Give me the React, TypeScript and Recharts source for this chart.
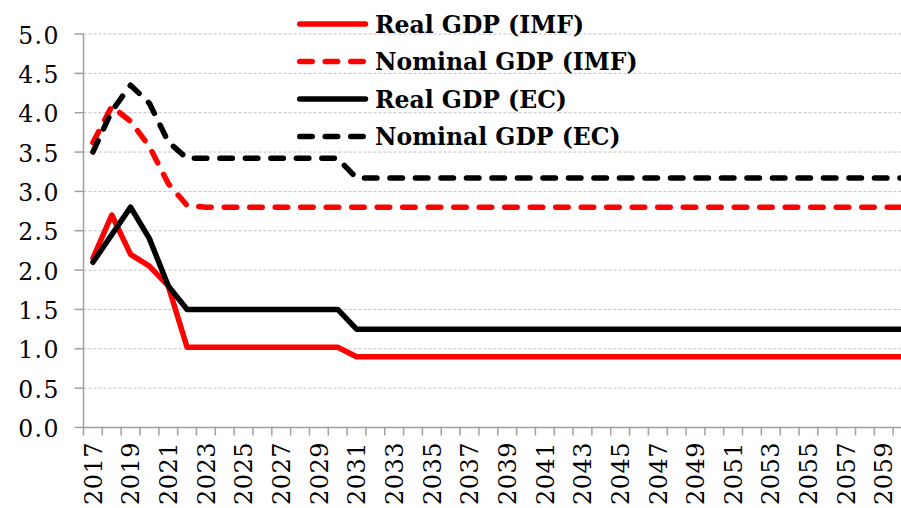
import React from 'react';
import { LineChart, Line, XAxis, YAxis, CartesianGrid, Legend } from 'recharts';

const YEARS = [
  2017, 2018, 2019, 2020, 2021, 2022, 2023, 2024, 2025, 2026, 2027,
  2028, 2029, 2030, 2031, 2032, 2033, 2034, 2035, 2036, 2037, 2038,
  2039, 2040, 2041, 2042, 2043, 2044, 2045, 2046, 2047, 2048, 2049,
  2050, 2051, 2052, 2053, 2054, 2055, 2056, 2057, 2058, 2059, 2060,
];

const REAL_IMF = [
  2.15, 2.7, 2.2, 2.05, 1.8, 1.02, 1.02, 1.02, 1.02, 1.02, 1.02,
  1.02, 1.02, 1.02, 0.9, 0.9, 0.9, 0.9, 0.9, 0.9, 0.9, 0.9,
  0.9, 0.9, 0.9, 0.9, 0.9, 0.9, 0.9, 0.9, 0.9, 0.9, 0.9,
  0.9, 0.9, 0.9, 0.9, 0.9, 0.9, 0.9, 0.9, 0.9, 0.9, 0.9,
];

const NOMINAL_IMF = [
  3.62, 4.08, 3.89, 3.57, 3.1, 2.82, 2.8, 2.8, 2.8, 2.8, 2.8,
  2.8, 2.8, 2.8, 2.8, 2.8, 2.8, 2.8, 2.8, 2.8, 2.8, 2.8,
  2.8, 2.8, 2.8, 2.8, 2.8, 2.8, 2.8, 2.8, 2.8, 2.8, 2.8,
  2.8, 2.8, 2.8, 2.8, 2.8, 2.8, 2.8, 2.8, 2.8, 2.8, 2.8,
];

const REAL_EC = [
  2.1, 2.45, 2.8, 2.4, 1.8, 1.5, 1.5, 1.5, 1.5, 1.5, 1.5,
  1.5, 1.5, 1.5, 1.25, 1.25, 1.25, 1.25, 1.25, 1.25, 1.25, 1.25,
  1.25, 1.25, 1.25, 1.25, 1.25, 1.25, 1.25, 1.25, 1.25, 1.25, 1.25,
  1.25, 1.25, 1.25, 1.25, 1.25, 1.25, 1.25, 1.25, 1.25, 1.25, 1.25,
];

const NOMINAL_EC = [
  3.5, 4.02, 4.35, 4.12, 3.63, 3.42, 3.42, 3.42, 3.42, 3.42, 3.42,
  3.42, 3.42, 3.42, 3.17, 3.17, 3.17, 3.17, 3.17, 3.17, 3.17, 3.17,
  3.17, 3.17, 3.17, 3.17, 3.17, 3.17, 3.17, 3.17, 3.17, 3.17, 3.17,
  3.17, 3.17, 3.17, 3.17, 3.17, 3.17, 3.17, 3.17, 3.17, 3.17, 3.17,
];

const Y_TICKS = [0, 0.5, 1, 1.5, 2, 2.5, 3, 3.5, 4, 4.5, 5];

const SERIES = [
  { key: 'realImf', name: 'Real GDP (IMF)', color: '#ff0000', dashed: false },
  { key: 'nominalImf', name: 'Nominal GDP (IMF)', color: '#ff0000', dashed: true },
  { key: 'realEc', name: 'Real GDP (EC)', color: '#000000', dashed: false },
  { key: 'nominalEc', name: 'Nominal GDP (EC)', color: '#000000', dashed: true },
];

const data = YEARS.map((year, i) => ({
  year,
  realImf: REAL_IMF[i],
  nominalImf: NOMINAL_IMF[i],
  realEc: REAL_EC[i],
  nominalEc: NOMINAL_EC[i],
}));

const CHART_W = 912;
const CHART_H = 508;
const Y_AXIS_W = 83.5;
const X_AXIS_H = 80.5;
const PLOT_W = CHART_W - Y_AXIS_W;
const DASH = '12.5 13';
const LINE_W = 5.5;
const AXIS_COLOR = '#a0a0a0';
const FONT = '"DejaVu Serif", serif';
const X_LS = 0.5;
const Y_LS = 1.5;

const XTick = (props: any) => {
  const { x, y, payload, index, visibleTicksCount } = props;
  const step = PLOT_W / YEARS.length;
  const year = payload.value;
  const showLabel = (year - YEARS[0]) % 2 === 0;
  const isLast = index === visibleTicksCount - 1;
  return (
    <g>
      <line x1={x - step / 2} x2={x - step / 2} y1={y - 8} y2={y} stroke={AXIS_COLOR} strokeWidth={1.5} />
      {isLast && (
        <line x1={x + step / 2} x2={x + step / 2} y1={y - 8} y2={y} stroke={AXIS_COLOR} strokeWidth={1.5} />
      )}
      {showLabel && (
        <text
          x={0}
          y={0}
          transform={`translate(${x + 8.7},${y + 6 + X_LS}) rotate(-90)`}
          textAnchor="end"
          fontSize={24}
          letterSpacing={X_LS}
          fontFamily={FONT}
          fill="#000"
        >
          {year}
        </text>
      )}
    </g>
  );
};

const YTick = (props: any) => {
  const { x, y, payload } = props;
  return (
    <text
      x={x + Y_LS}
      y={y + 9.5}
      textAnchor="end"
      fontSize={23.5}
      letterSpacing={Y_LS}
      fontFamily={FONT}
      fill="#000"
    >
      {Number(payload.value).toFixed(1)}
    </text>
  );
};

const renderLegend = () => (
  <svg width={360} height={160} style={{ display: 'block' }}>
    {SERIES.map((s, i) => {
      const cy = 24 + i * 37.5;
      return (
        <g key={s.key}>
          <line
            x1={9.7}
            y1={cy}
            x2={75.5}
            y2={cy}
            stroke={s.color}
            strokeWidth={LINE_W}
            strokeLinecap="round"
            strokeDasharray={s.dashed ? DASH : undefined}
          />
          <text x={85} y={cy + 8.8} fontFamily={FONT} fontWeight="bold" fontSize={23.5} fill="#000">
            {s.name}
          </text>
        </g>
      );
    })}
  </svg>
);

export default function App() {
  return (
    <div
      style={{
        position: 'absolute',
        left: 0,
        top: 0,
        width: 901,
        height: 508,
        overflow: 'hidden',
        background: '#fff',
      }}
    >
      <LineChart
        width={CHART_W}
        height={CHART_H}
        data={data}
        margin={{ top: 34, right: 0, bottom: 0, left: 0 }}
      >
        <CartesianGrid vertical={false} stroke="#c0c0c0" strokeDasharray="3 2" />
        <XAxis
          dataKey="year"
          type="number"
          domain={[2016.5, 2060.5]}
          ticks={YEARS}
          interval={0}
          height={X_AXIS_H}
          tickLine={false}
          tickSize={8}
          tickMargin={0}
          axisLine={{ stroke: AXIS_COLOR, strokeWidth: 1.5 }}
          tick={<XTick />}
          allowDataOverflow
        />
        <YAxis
          type="number"
          domain={[0, 5]}
          ticks={Y_TICKS}
          interval={0}
          width={Y_AXIS_W}
          tickSize={9}
          tickMargin={16}
          axisLine={{ stroke: AXIS_COLOR, strokeWidth: 1.5 }}
          tickLine={{ stroke: AXIS_COLOR, strokeWidth: 1.5 }}
          tick={<YTick />}
        />
        <Legend
          layout="horizontal"
          verticalAlign="middle"
          align="center"
          content={renderLegend}
          wrapperStyle={{ left: 290, top: 0, width: 360, height: 160 }}
        />
        {SERIES.map((s) => (
          <Line
            key={s.key}
            type="linear"
            dataKey={s.key}
            name={s.name}
            stroke={s.color}
            strokeWidth={LINE_W}
            strokeDasharray={s.dashed ? DASH : undefined}
            strokeLinecap="round"
            strokeLinejoin="round"
            dot={false}
            activeDot={false}
            isAnimationActive={false}
          />
        ))}
      </LineChart>
    </div>
  );
}
